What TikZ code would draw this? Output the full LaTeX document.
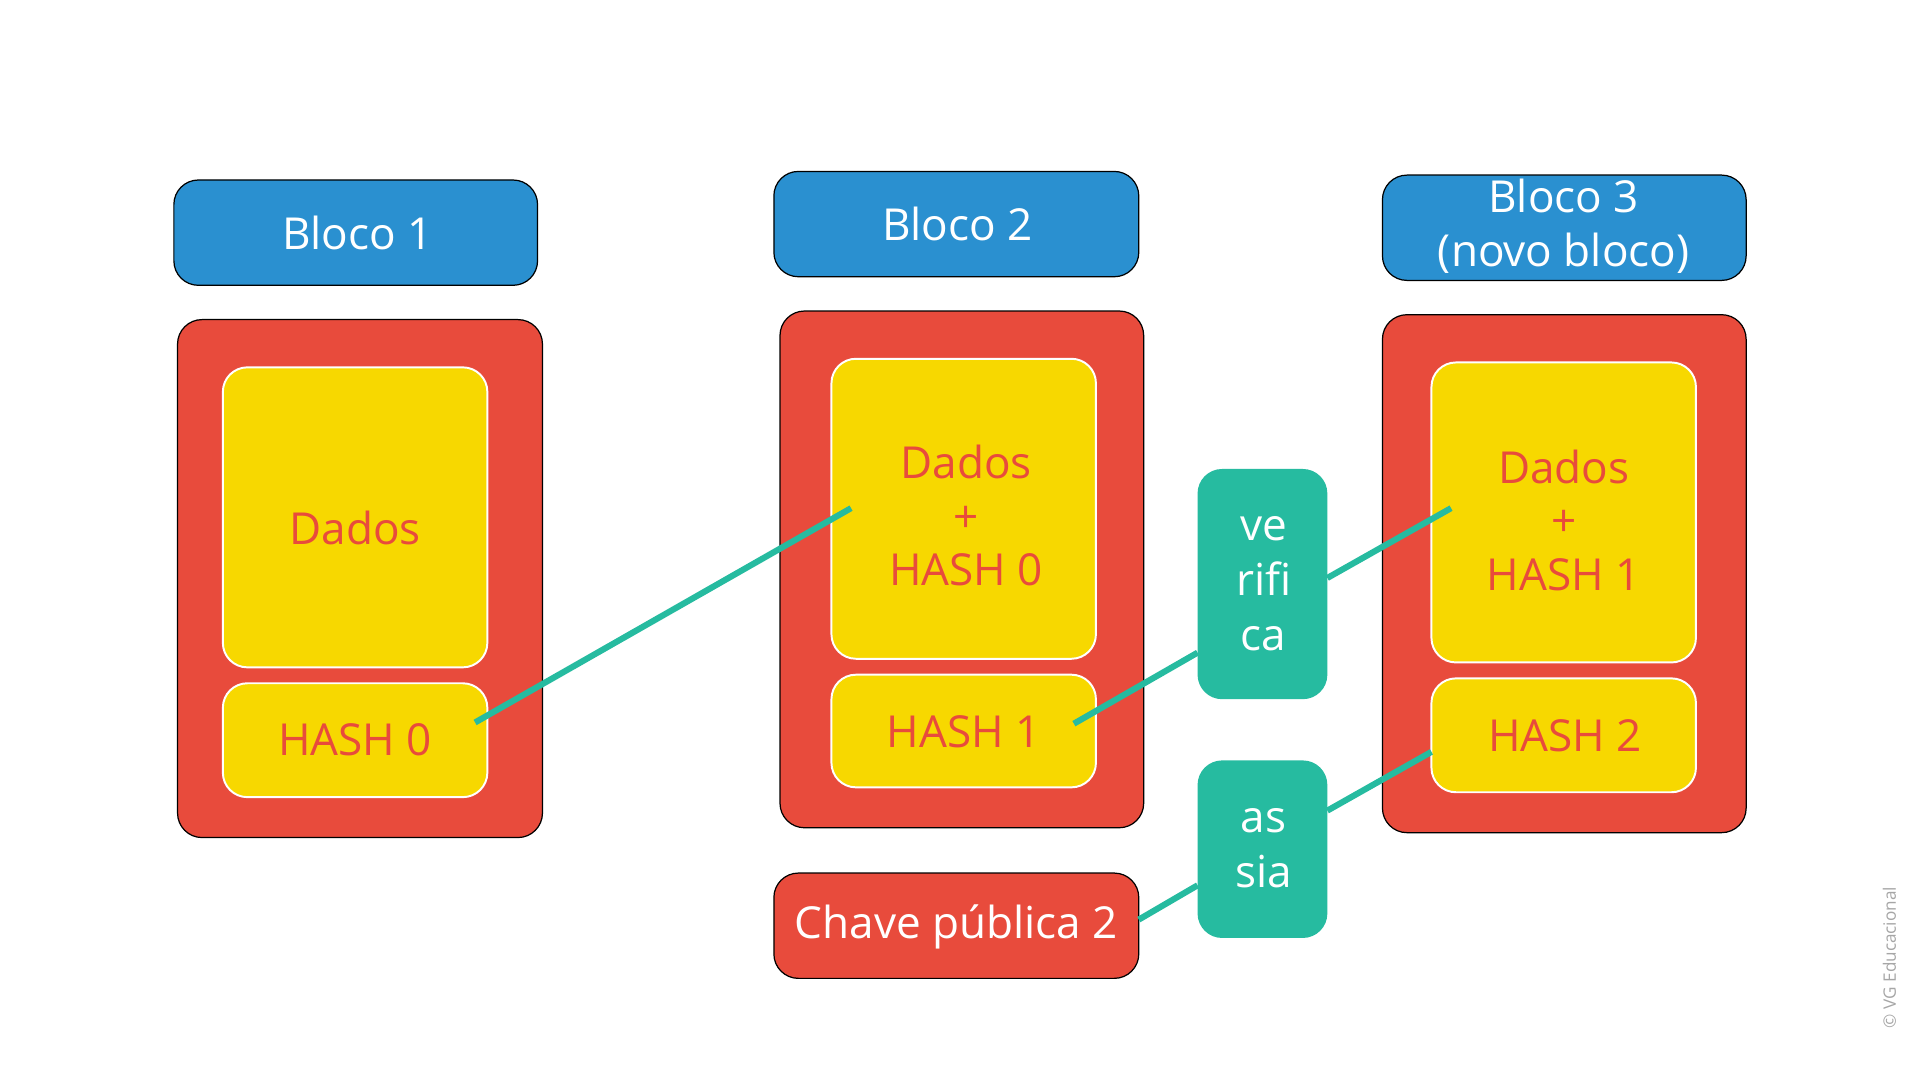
\documentclass[tikz,border=0pt]{standalone}
\usepackage{fontspec}
\setmainfont{Open Sans}
\definecolor{bl}{HTML}{2A90D0}
\definecolor{rd}{HTML}{E84B3C}
\definecolor{ye}{HTML}{F7D800}
\definecolor{te}{HTML}{26BBA0}
\begin{document}
\begin{tikzpicture}[x=0.5pt,y=-0.5pt,
 box/.style={rounded corners=10pt,draw=black,line width=0.5pt},
 hdr/.style={box,fill=bl},
 redb/.style={box,fill=rd},
 yel/.style={rounded corners=10pt,fill=ye,draw=white,line width=0.8pt},
 tea/.style={rounded corners=10pt,fill=te},
 wt/.style={text=white,align=center},
 rt/.style={text=rd,align=center},
 con/.style={draw=te,line width=2.5pt},
 font=\fontsize{18}{22}\selectfont]
\useasboundingbox (0,0) rectangle (1568,882);
\path[hdr] (142,147) rectangle (439,233); \node[wt] (b1) at (292,190) {Bloco 1};
\path[hdr] (632,140) rectangle (930,226); \node[wt] (b2) at (782,183) {Bloco 2};
\path[hdr] (1129,143) rectangle (1426,229); \node[wt] (b3) at (1277,185) {Bloco 3\\(novo bloco)};
\path[redb] (145,261) rectangle (443,684);
\path[redb] (637,254) rectangle (934,676);
\path[redb] (1129,257) rectangle (1426,680);
\path[redb] (632,713) rectangle (930,799); \node[wt] (ch) at (781,757) {Chave pública 2};
\path[yel] (182,300) rectangle (398,545); \node[rt] (d1) at (290,431) {Dados};
\path[yel] (182,558) rectangle (398,651); \node[rt] (h0) at (290,604) {HASH 0};
\path[yel] (679,293) rectangle (895,538); \node[rt] (d2) at (789,421) {Dados\\+\\HASH 0};
\path[yel] (679,551) rectangle (895,643); \node[rt] (h1) at (787,598) {HASH 1};
\path[yel] (1169,296) rectangle (1385,541); \node[rt] (d3) at (1277,425) {Dados\\+\\HASH 1};
\path[yel] (1169,554) rectangle (1385,647); \node[rt] (h2) at (1278,601) {HASH 2};
\path[tea] (978,383) rectangle (1084,571); \node[wt,font=\fontsize{18}{22.5}\selectfont] (v) at (1032,477) {ve\\rifi\\ca};
\path[tea] (978,621) rectangle (1084,766); \node[wt,font=\fontsize{18}{22.5}\selectfont] (a) at (1032,693) {as\\sia};
\coordinate (p1) at (388,590); \coordinate (p2) at (695,415);
\coordinate (p3) at (877,591); \coordinate (p4) at (978,533);
\coordinate (p5) at (1084,472); \coordinate (p6) at (1185,415);
\coordinate (p7) at (1084,662); \coordinate (p8) at (1169,614);
\coordinate (p9) at (930,751); \coordinate (p10) at (978,723);
\draw[con] (p1) -- (p2); \draw[con] (p3) -- (p4); \draw[con] (p5) -- (p6);
\draw[con] (p7) -- (p8); \draw[con] (p9) -- (p10);
\node[rotate=90,text=gray!70,font=\fontsize{7}{8}\selectfont] (cp) at (1543,782) {© VG Educacional};
\end{tikzpicture}
\end{document}
